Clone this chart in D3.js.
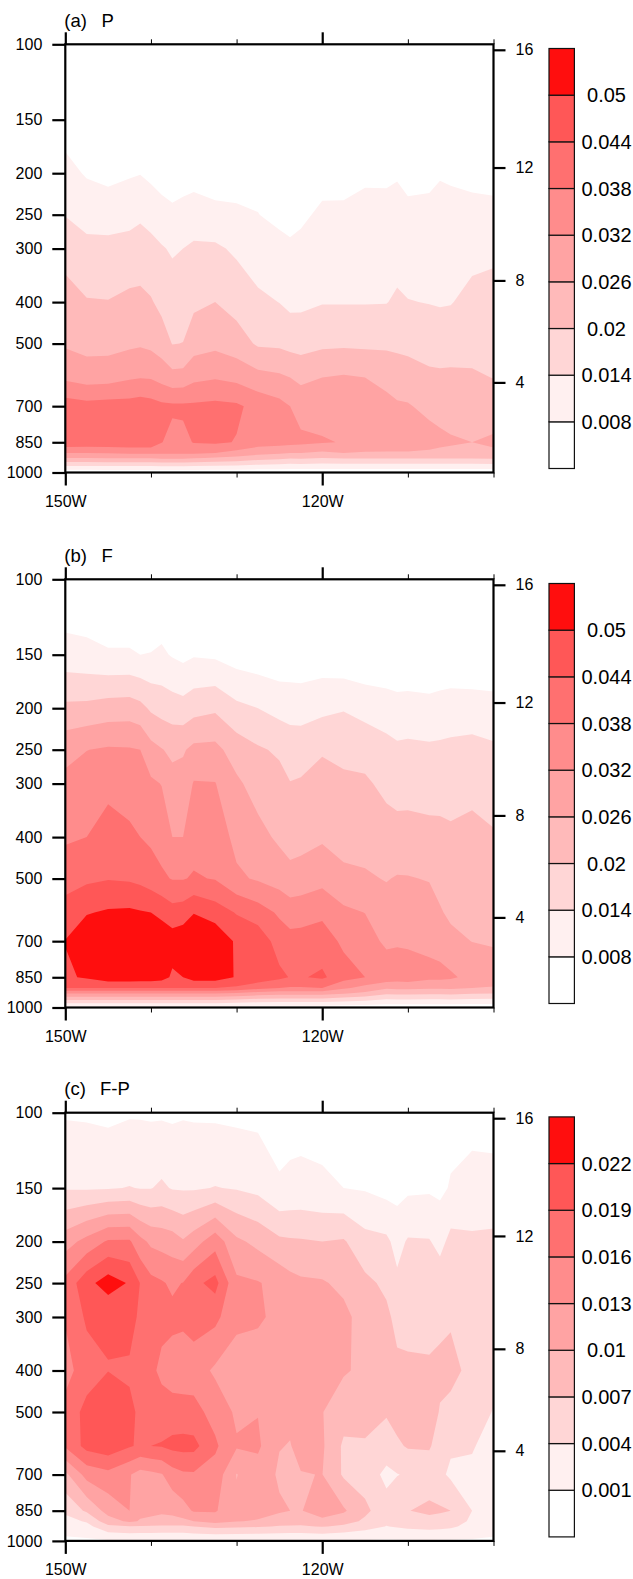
<!DOCTYPE html>
<html>
<head>
<meta charset="utf-8">
<script src="https://cdn.jsdelivr.net/npm/d3@7"></script>
<style>
body { margin: 0; background: #fff; }
svg { display: block; }
text { font-family: "Liberation Sans", Arial, sans-serif; fill: #000; }
</style>
</head>
<body>
<svg id="chart" width="633" height="1579"></svg>
<script>
// pressure levels (hPa), top to bottom
const levels = [100, 150, 200, 250, 300, 400, 500, 600, 700, 850, 900, 925, 1000];
// longitudes (negative = west)
const lons = [-150, -147.5, -145, -142.5, -141.25, -140, -138.75, -137.5, -136.25, -135, -132.5, -130, -127.5, -125, -123.75,
    -122.5, -120, -117.5, -115, -112.5, -111.25, -110, -107.5, -106.25, -105, -102.5, -100];

// values are in units of 0.001, one row per longitude, one entry per level
const valuesP = [
    [1, 5, 10, 13.8, 17.8, 22.4, 25.2, 30.9, 41, 43, 32, 26, 4],
    [1, 3.2, 7.4, 12, 15.5, 20.4, 24, 29.3, 40, 42.5, 32, 26, 4],
    [1, 3, 6.2, 11.7, 15.5, 20.2, 24, 29.6, 40.5, 42.5, 32.5, 26.5, 4],
    [1, 3.5, 7.4, 12.2, 16, 21.4, 24.9, 31.3, 40.5, 43, 33, 26.5, 4],
    [1, 3.8, 7.8, 13.1, 16.6, 21.5, 25.3, 31.8, 41, 43, 33, 26.5, 4],
    [1, 3.5, 6.6, 12, 15.7, 20.5, 24.6, 31.5, 40.4, 43, 33, 26.5, 4],
    [1, 2, 5.5, 10.3, 14.5, 18.4, 22.9, 29.9, 39.3, 38.2, 33, 27, 4],
    [1, 1.5, 5, 9.2, 13.3, 17.1, 19.8, 28, 39, 36, 33, 27, 4],
    [1, 2, 5.5, 9.9, 14, 17.4, 20.1, 28.2, 39, 36.5, 33, 27, 4],
    [1, 3, 5.5, 11, 14.9, 18.8, 23.4, 30.5, 39, 38.3, 33, 26.5, 4],
    [1, 2, 5, 9.6, 15, 20, 24.5, 31.5, 39.5, 39, 32, 25.5, 4],
    [1, 2, 5.4, 9, 13, 17.8, 22.7, 30.3, 39, 37.7, 30, 24.5, 4],
    [1, 1.5, 6.5, 8.1, 10.8, 15.2, 19.2, 28, 36, 35, 28, 22.5, 4],
    [1, 1, 4.5, 6.8, 9.5, 13.9, 18.9, 27, 33.8, 34.5, 27, 21.5, 4],
    [1, 1, 4, 6.4, 8.8, 12.6, 18, 26, 32, 34, 26, 20.5, 4],
    [1, 1, 4.5, 7, 9.4, 12.8, 17.6, 24.8, 29.3, 33.5, 26, 21, 4],
    [1, 1.5, 6, 9, 10.7, 13.7, 18.8, 26, 29.6, 32.5, 25, 20, 4],
    [1, 2, 6.5, 8.8, 10.7, 13.7, 19, 26.6, 29.6, 31.7, 26, 20.5, 4],
    [1, 4, 7.2, 9.5, 11, 13.7, 18.8, 26, 28.5, 30, 25.5, 20.5, 4],
    [1, 3.5, 7.2, 9.4, 11.1, 13.8, 18.7, 25, 27, 29.5, 25.5, 20.5, 4],
    [1, 3.2, 7.6, 9.6, 11.6, 14.9, 18.8, 23, 26.8, 29.5, 25.5, 20.5, 4],
    [1, 2.5, 6.5, 9.2, 11.1, 14.2, 18.4, 22.7, 26.5, 29.5, 25.5, 20.5, 4],
    [1, 3, 7, 9.1, 10.9, 13.8, 17.7, 21.1, 24.4, 28.5, 25, 20.5, 4],
    [1, 3.5, 7.6, 9.8, 11.1, 13.5, 17.6, 20.9, 23.8, 27.5, 24.5, 20.5, 4],
    [1, 3.5, 7.3, 9.6, 11.1, 13.7, 17.7, 21, 23.5, 26.7, 24.5, 20.5, 4],
    [1, 2.5, 6.7, 9.5, 12.1, 15.8, 18.4, 20.6, 23.1, 26, 24.5, 20.5, 4],
    [1, 2.5, 6.2, 9.5, 12.8, 16.1, 18.2, 19.9, 22.8, 27, 25, 21, 4]
];
const valuesF = [
    [2, 10.5, 21.3, 30, 33.6, 37.1, 41.8, 46.3, 50.2, 49, 44, 33, 6],
    [2, 9.8, 21.6, 31.9, 34.3, 38, 42.9, 49.6, 54, 50.8, 44, 33, 6],
    [2, 8.6, 22.7, 32.7, 36.3, 40.7, 43.7, 50.7, 55, 54, 44, 33, 6],
    [2, 8.6, 23, 32.5, 35, 39.3, 43.3, 51, 55, 54, 44, 33, 6],
    [2, 8, 21.8, 32, 34.3, 38, 42.5, 50.5, 54.5, 53.5, 44, 33, 6],
    [2, 8.2, 19.1, 28, 33, 36.9, 41, 50, 54, 53.5, 44, 33, 6],
    [2, 9, 17.7, 26.3, 31.8, 35.8, 38.9, 48.8, 53.3, 52.5, 44, 33, 6],
    [2, 7.5, 16.9, 24.8, 28, 32, 37.7, 46.4, 53, 49, 44, 33, 6],
    [2, 6.5, 16.2, 25.4, 28.2, 32, 37.7, 47, 54, 50, 44, 33, 6],
    [2, 7.5, 17.8, 27.5, 32.4, 35.9, 38.5, 49.8, 54, 53, 44, 33, 6],
    [2, 7, 19, 27.7, 32.2, 35.3, 37.7, 47, 55, 53, 44, 33, 6],
    [2, 5.3, 15.4, 23.2, 27.1, 30.4, 33, 43.6, 49, 49.5, 43, 32, 5.5],
    [2, 4.5, 14, 20.7, 23.5, 27.9, 31.3, 40.8, 48, 48, 40, 30, 5],
    [2, 4, 12, 19.2, 21.7, 24.9, 29.5, 37.1, 41.3, 45.4, 38, 29, 5],
    [2, 4, 11.8, 17.2, 20.2, 23.8, 27.8, 35.3, 40, 43.7, 37.5, 29, 5],
    [2, 4, 11.5, 17.4, 20.6, 24.1, 28.3, 35.7, 40, 43.5, 37.5, 29, 5],
    [2, 4.5, 12.5, 19.5, 21.9, 25.2, 30.1, 36.8, 40.8, 45, 38, 29, 5],
    [2, 3.5, 13.6, 18.5, 21.1, 24, 27.3, 33.3, 36.9, 40.5, 33, 27, 4.5],
    [2, 3, 12, 17.8, 20.9, 23.9, 26.7, 31.9, 34.7, 38, 30, 25, 4.5],
    [2, 2.5, 11.2, 15.8, 18.5, 22.6, 25.7, 28.4, 30.8, 36, 27, 21.5, 4],
    [2, 2.5, 10.4, 15, 17.8, 22.1, 26.4, 28.9, 31.4, 35, 27.5, 22, 4],
    [2, 2.5, 10.6, 15.2, 17.7, 22.3, 26.3, 28.9, 31, 35.5, 27.5, 22, 4],
    [2, 2, 10.2, 14.9, 17.4, 21.8, 25.7, 28.4, 30.7, 33.6, 27, 21.5, 4],
    [2, 2.5, 10.7, 15, 17.7, 21.5, 24.3, 26.5, 30, 33.5, 27, 21.5, 4],
    [2, 3, 11, 15.3, 17.6, 21, 23.2, 25, 27.5, 33, 27, 22, 4],
    [2, 2.5, 11, 15.8, 18.5, 21.5, 23.2, 24.6, 25.9, 30, 26, 21, 4],
    [2, 2.5, 10.5, 14.9, 17.2, 20.6, 22.5, 24, 25.4, 29, 25.5, 20.5, 4]
];
const valuesFP = [
    [0.7, 3.75, 11.7, 16.9, 16.2, 15, 16.9, 16.4, 9.3, 4.64, 3, 2.1, 0.5],
    [0.6, 3.7, 14, 21, 19.5, 17.5, 20, 20, 14.1, 7.5, 4.3, 3, 0.5],
    [0.3, 3.8, 16.4, 23.5, 19.2, 18.95, 21, 21, 15.1, 11.1, 8.8, 6.3, 0.7],
    [0.7, 4.1, 16.4, 21.7, 20, 18.6, 19.6, 19.3, 13.2, 13, 10.5, 6.8, 0.8],
    [0.7, 3.9, 13.9, 18.9, 18.5, 17.5, 18.5, 18.5, 11.9, 10.6, 9.8, 6.7, 0.8],
    [0.6, 3.9, 12.4, 16.9, 17.5, 16.8, 18, 19, 12.3, 10.7, 9.4, 6.7, 0.8],
    [0.6, 4.46, 11.9, 16.3, 17, 15.2, 17.6, 19.2, 12.8, 10.5, 9, 6.5, 0.8],
    [0.5, 3.8, 11.5, 15.5, 16.8, 14.5, 17.3, 19.8, 14.7, 10.8, 9, 6.5, 0.8],
    [0.7, 3.7, 10.3, 16.1, 16.6, 14.4, 17.2, 20, 15.5, 11.9, 9.2, 6.5, 0.8],
    [0.6, 3.7, 11.6, 18.2, 17.3, 14.5, 17, 19.9, 15.6, 13.3, 10, 7, 0.8],
    [0.5, 4.1, 14.8, 20, 16.8, 12.5, 14.9, 16.5, 14.8, 13.3, 11.2, 7.8, 0.8],
    [0.3, 3.8, 10.6, 13.6, 13.6, 11.8, 12.5, 13.3, 9.9, 10.6, 10.1, 7.5, 0.8],
    [0.2, 3.2, 9.2, 13.2, 13.4, 11.5, 12.9, 13.5, 11.7, 10.9, 9.8, 7.3, 0.8],
    [0, 1.28, 7.6, 12, 12.3, 11.2, 10.8, 10.1, 9.6, 10.4, 8.5, 6.8, 0.8],
    [0, 1.59, 7.4, 11, 11.8, 11.2, 10.5, 9.9, 9.5, 10, 8.3, 6.7, 0.8],
    [0, 1.74, 7.3, 10.5, 11.5, 11.2, 11, 10.7, 9.9, 9.9, 8.2, 6.6, 0.8],
    [0, 1.44, 7, 10.3, 11.4, 10.9, 10.1, 10.4, 10.05, 11, 9.5, 7.2, 0.8],
    [0, 1, 7.3, 9.3, 10.8, 10.3, 8.3, 6.5, 6.6, 10.4, 8.4, 6.4, 0.8],
    [0, 0.76, 5, 7.7, 8.7, 9.4, 8.4, 6.6, 5.6, 7.7, 6.4, 5.2, 0.7],
    [0, 0, 4.6, 6.4, 7.6, 8.5, 7.3, 5.5, 3.3, 5.1, 4.6, 3.9, 0.7],
    [0, 0, 3, 4.6, 6.2, 7.6, 8.2, 6.5, 3.9, 6, 5.2, 4.3, 0.7],
    [0, 0.45, 4.3, 5.3, 6.1, 7.5, 8, 7.3, 4.3, 6.9, 5.5, 4.6, 0.7],
    [0, 0.6, 4.2, 5, 5.8, 7.5, 8.5, 7.3, 5.3, 7.7, 6, 5, 0.7],
    [0, 0.4, 3, 5.8, 6.3, 7.7, 6.8, 5.7, 4.6, 7.4, 5.8, 4.8, 0.7],
    [0, 1.24, 4.9, 5.8, 6.6, 8, 6, 4.4, 3.5, 7, 5.5, 4.5, 0.7],
    [0, 1.98, 4.5, 5.2, 5.6, 6, 5, 4.2, 3.5, 4, 3.5, 3, 0.7],
    [0, 1.85, 4.7, 5.5, 5.4, 4.8, 3.9, 3, 2.8, 2.9, 2.5, 2, 0.6]
];

const thresholdsPF = [8, 14, 20, 26, 32, 38, 44, 50];
const thresholdsFP = [1, 4, 7, 10, 13, 16, 19, 22];
const colors = ["#ffffff", "#fff0f0", "#ffd6d6", "#ffbaba", "#ffa3a3", "#ff8c8c", "#ff7070", "#ff5757", "#ff0e0e"];

const pressureTicks = [100, 150, 200, 250, 300, 400, 500, 700, 850, 1000];
const lonMajor = [-150, -120];
const lonMinor = [-140, -130, -110, -100];
const heightTicks = [4, 8, 12, 16];
const heightPressure = [616, 356, 194, 103]; // standard atmosphere

const panels = [
    { tag: "(a)", name: "P", nameX: 101.5, top: 44.3, values: valuesP, thresholds: thresholdsPF },
    { tag: "(b)", name: "F", nameX: 101.5, top: 579.3, values: valuesF, thresholds: thresholdsPF },
    { tag: "(c)", name: "F-P", nameX: 100, top: 1112.7, values: valuesFP, thresholds: thresholdsFP }
];

const left = 65.3, size = 428.2;
const svg = d3.select("#chart");

const x = d3.scaleLinear().domain([-150, -100]).range([0, size]);
const y = d3.scaleLog().domain([100, 1000]).range([0, size]);
// grid index -> pixel, contours come back offset by half a cell
const xIndex = d3.scaleLinear().domain(d3.range(lons.length)).range(lons.map(x));
const yIndex = d3.scaleLinear().domain(d3.range(levels.length)).range(levels.map(y));
const path = d3.geoPath(d3.geoTransform({
    point(px, py) { this.stream.point(xIndex(px - 0.5), yIndex(py - 0.5)); }
}));

const barScale = d3.scaleLinear().domain([0, 9]).range([420, 0]);

function styleAxis(sel, tickWidth) {
    sel.selectAll(".domain").remove();
    sel.selectAll("line").attr("stroke", "#000").attr("stroke-width", tickWidth);
    sel.selectAll("text").attr("font-size", 16).attr("fill", "#000");
}

panels.forEach((p, idx) => {
    const g = svg.append("g").attr("transform", `translate(${left},${p.top})`);
    const clipId = "plot-clip-" + idx;
    g.append("clipPath").attr("id", clipId).append("rect").attr("width", size).attr("height", size);

    // row-major grid for d3.contours
    const n = lons.length, m = levels.length;
    const grid = [];
    for (let j = 0; j < m; j++) for (let i = 0; i < n; i++) grid.push(p.values[i][j]);

    const contours = d3.contours().size([n, m]).thresholds(p.thresholds)(grid);
    g.append("g").attr("clip-path", `url(#${clipId})`)
        .selectAll("path")
        .data(contours)
        .join("path")
        .attr("d", path)
        .attr("fill", (d, i) => colors[i + 1])
        .attr("fill-rule", "evenodd");

    // axes
    g.append("g").call(d3.axisLeft(y).tickValues(pressureTicks).tickFormat(d3.format("d")).tickSize(13).tickPadding(10))
        .call(styleAxis, 2.2);
    g.append("g").attr("transform", `translate(0,${size})`)
        .call(d3.axisBottom(x).tickValues(lonMajor).tickFormat(d => Math.abs(d) + "W").tickSize(13).tickPadding(10))
        .call(styleAxis, 2.2);
    g.append("g").attr("transform", `translate(0,${size})`)
        .call(d3.axisBottom(x).tickValues(lonMinor).tickFormat("").tickSize(5))
        .call(styleAxis, 1);
    g.append("g").call(d3.axisTop(x).tickValues(lonMajor).tickFormat("").tickSize(12))
        .call(styleAxis, 2.2);
    g.append("g").call(d3.axisTop(x).tickValues(lonMinor).tickFormat("").tickSize(5))
        .call(styleAxis, 1);
    g.append("g").attr("transform", `translate(${size},0)`)
        .call(d3.axisRight(y).tickValues(heightPressure)
            .tickFormat((d, i) => heightTicks[i]).tickSize(12).tickPadding(10))
        .call(styleAxis, 2.2);

    // frame
    g.append("rect").attr("width", size).attr("height", size)
        .attr("fill", "none").attr("stroke", "#000").attr("stroke-width", 2.2);

    // title
    g.append("text").attr("x", -1).attr("y", -17.6).attr("font-size", 18.5).text(p.tag);
    g.append("text").attr("x", p.nameX - left).attr("y", -17.6).attr("font-size", 18.5).text(p.name);

    // colour bar
    const bar = svg.append("g").attr("transform", `translate(549,${p.top + 4.2})`);
    bar.selectAll("rect")
        .data(colors)
        .join("rect")
        .attr("y", (d, i) => barScale(i + 1))
        .attr("width", 25.4)
        .attr("height", (d, i) => barScale(i) - barScale(i + 1))
        .attr("fill", d => d)
        .attr("stroke", "#111")
        .attr("stroke-width", 1.2);
    bar.selectAll("text")
        .data(p.thresholds)
        .join("text")
        .attr("x", 57.5)
        .attr("y", (d, i) => barScale(i + 1))
        .attr("dy", "0.35em")
        .attr("text-anchor", "middle")
        .attr("font-size", 20)
        .text(d => String(d / 1000));
});
</script>
</body>
</html>
